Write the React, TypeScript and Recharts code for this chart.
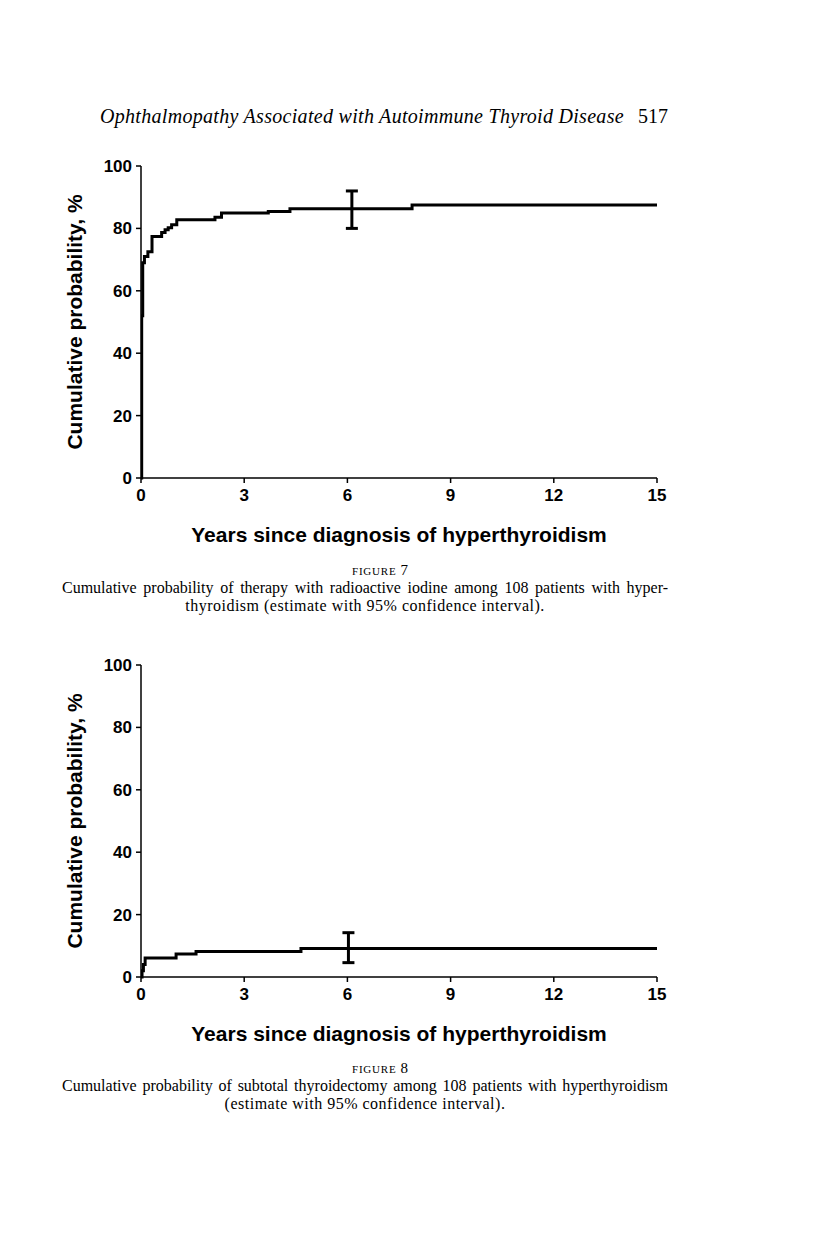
import { ComposedChart, Line, Scatter, ErrorBar, XAxis, YAxis } from "recharts";

// Figure 7: radioactive iodine, Kaplan-Meier steps (years, cumulative %)
const rai_t = [0, 0.02, 0.05, 0.1, 0.2, 0.32, 0.6, 0.7, 0.79, 0.89, 1.04, 2.15, 2.34, 3.7, 4.33, 7.88, 15];
const rai_v = [0, 52, 69, 71, 72.5, 77.4, 78.7, 79.6, 80.2, 81.2, 82.8, 83.6, 84.9, 85.4, 86.3, 87.5, 87.5];
const rai_ci_t = [6.13];
const rai_ci_est = [86.3];
const rai_ci_low = [80.0];
const rai_ci_high = [92.0];

// Figure 8: subtotal thyroidectomy
const sur_t = [0, 0.03, 0.07, 0.12, 1.02, 1.6, 4.65, 15];
const sur_v = [0, 2, 4, 6.1, 7.4, 8.2, 9.1, 9.1];
const sur_ci_t = [6.03];
const sur_ci_est = [9.1];
const sur_ci_low = [4.6];
const sur_ci_high = [14.2];

const xTicks = [0, 3, 6, 9, 12, 15];
const yTicks = [0, 20, 40, 60, 80, 100];

const xTitle = "Years since diagnosis of hyperthyroidism";
const yTitle = "Cumulative probability, %";

const sans = "'Liberation Sans', Arial, sans-serif";
const serif = "'Liberation Serif', 'Times New Roman', serif";

function KmChart({ t, v, ciT, ciEst, ciLow, ciHigh, top }: any) {
  const curve = t.map((x: number, i: number) => ({ t: x, v: v[i] }));
  const ci = ciT.map((x: number, i: number) => ({
    t: x,
    v: ciEst[i],
    err: [ciEst[i] - ciLow[i], ciHigh[i] - ciEst[i]],
  }));
  const tick = { fontSize: 17, fill: "#000", fontWeight: 700, fontFamily: sans };
  return (
    <div style={{ position: "absolute", left: 0, top }}>
      <ComposedChart width={700} height={380} margin={{ top: 26, right: 43, left: 91, bottom: 0 }}>
        <XAxis
          type="number"
          dataKey="t"
          domain={[0, 15]}
          ticks={xTicks}
          height={42}
          tick={tick}
          tickSize={5}
          tickMargin={6}
          stroke="#000"
          strokeWidth={1.5}
          allowDataOverflow
        />
        <YAxis
          type="number"
          domain={[0, 100]}
          ticks={yTicks}
          width={50}
          tick={tick}
          tickSize={5}
          tickMargin={4}
          stroke="#000"
          strokeWidth={1.5}
        />
        <Line
          data={curve}
          dataKey="v"
          type="stepAfter"
          stroke="#000"
          strokeWidth={3}
          dot={false}
          isAnimationActive={false}
        />
        <Scatter data={ci} dataKey="v" shape={() => <g />} isAnimationActive={false}>
          <ErrorBar dataKey="err" direction="y" width={6} stroke="#000" strokeWidth={3} />
        </Scatter>
      </ComposedChart>
    </div>
  );
}

function Titles({ plotTop }: { plotTop: number }) {
  return (
    <>
      <div
        style={{
          position: "absolute",
          left: 75 - 150,
          top: plotTop + 156 - 12,
          width: 300,
          height: 24,
          lineHeight: "24px",
          textAlign: "center",
          transform: "rotate(-90deg)",
          fontFamily: sans,
          fontWeight: 700,
          fontSize: 21,
        }}
      >
        {yTitle}
      </div>
      <div
        style={{
          position: "absolute",
          left: 141,
          top: plotTop + 369 - 12,
          width: 516,
          height: 24,
          lineHeight: "24px",
          textAlign: "center",
          fontFamily: sans,
          fontWeight: 700,
          fontSize: 21,
        }}
      >
        {xTitle}
      </div>
    </>
  );
}

function Caption({ top, num, line1, line2 }: any) {
  const txt = { fontSize: 16, lineHeight: "18px", letterSpacing: 0.5 };
  return (
    <div style={{ position: "absolute", left: 62, top, width: 606, fontFamily: serif, color: "#000" }}>
      <div style={{ textAlign: "center", lineHeight: "18px", height: 18, paddingLeft: 30 }}>
        <span style={{ fontSize: 11, letterSpacing: 0.8 }}>FIGURE</span>{" "}
        <span style={{ fontSize: 15 }}>{num}</span>
      </div>
      <div style={{ ...txt, letterSpacing: 0, textAlign: "justify", textAlignLast: "justify" }}>{line1}</div>
      <div style={{ ...txt, textAlign: "center" }}>{line2}</div>
    </div>
  );
}

export default function App() {
  return (
    <div style={{ position: "absolute", left: 0, top: 0, width: 816, height: 1246, background: "#fff", color: "#000" }}>
      <div
        style={{
          position: "absolute",
          left: 100,
          top: 104,
          width: 568,
          lineHeight: "24px",
          fontFamily: serif,
          fontSize: 20,
          display: "flex",
          justifyContent: "space-between",
        }}
      >
        <span style={{ fontStyle: "italic", letterSpacing: 0.3 }}>Ophthalmopathy Associated with Autoimmune Thyroid Disease</span>
        <span>517</span>
      </div>

      <KmChart t={rai_t} v={rai_v} ciT={rai_ci_t} ciEst={rai_ci_est} ciLow={rai_ci_low} ciHigh={rai_ci_high} top={140} />
      <Titles plotTop={166} />
      <Caption
        top={561}
        num="7"
        line1="Cumulative probability of therapy with radioactive iodine among 108 patients with hyper-"
        line2="thyroidism (estimate with 95% confidence interval)."
      />

      <KmChart t={sur_t} v={sur_v} ciT={sur_ci_t} ciEst={sur_ci_est} ciLow={sur_ci_low} ciHigh={sur_ci_high} top={639} />
      <Titles plotTop={665} />
      <Caption
        top={1059}
        num="8"
        line1="Cumulative probability of subtotal thyroidectomy among 108 patients with hyperthyroidism"
        line2="(estimate with 95% confidence interval)."
      />
    </div>
  );
}
